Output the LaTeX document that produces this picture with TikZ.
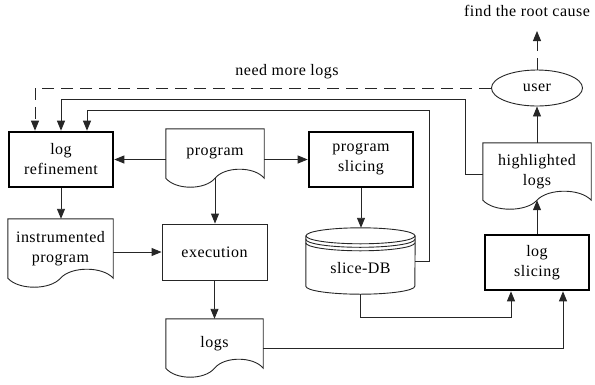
\documentclass[tikz,border=0pt]{standalone}
\usepackage{fontspec}
\setmainfont{Liberation Serif}[LetterSpace=3]
\usetikzlibrary{arrows.meta,calc,shapes.geometric}
\tikzset{
  txt/.style={font=\fontsize{16}{20}\selectfont},
  ln/.style={draw=black!85, line width=0.9pt},
  arr/.style={ln, -{Triangle[length=10pt,width=8pt]}},
  dashedarr/.style={arr, dash pattern=on 12pt off 7pt},
  thickbox/.style={txt, draw=black, line width=2.6pt, rectangle, align=center, inner sep=0pt},
  thinbox/.style={txt, ln, rectangle, align=center, inner sep=0pt},
  docnode/.style={txt, rectangle, align=center, inner sep=0pt},
  docline/.style={ln},
}
\newcommand{\docwave}[1]{%
  \draw[docline] let \p1=(#1.north west), \p2=(#1.south east) in
    (\x1,\y2) .. controls ({\x1+0.1*(\x2-\x1)},{\y2-12pt}) and ({\x1+0.4*(\x2-\x1)},{\y2-12pt}) .. ({0.5*(\x1+\x2)},\y2)
    .. controls ({\x1+0.6*(\x2-\x1)},{\y2+12pt}) and ({\x1+0.9*(\x2-\x1)},{\y2+12pt}) .. (\x2,\y2)
    -- (\x2,\y1) -- (\x1,\y1) -- cycle;}
\begin{document}
\begin{tikzpicture}[x=1pt,y=-1pt]
\useasboundingbox (0,0) rectangle (595,384);

% nodes
\node[thickbox, minimum width=104pt, minimum height=55pt] (logref) at (61,159.5) {log\\refinement};
\node[docnode, minimum width=98pt, minimum height=49pt] (program) at (215,153.5) {program};
\node[thickbox, minimum width=104pt, minimum height=55pt] (progslice) at (361,159.5) {program\\slicing};
\node[txt, ln, ellipse, minimum width=91pt, minimum height=36pt, inner sep=0pt] (user) at (537,88) {user};
\node[docnode, minimum width=108pt, minimum height=57pt] (highlighted) at (537,171.5) {highlighted\\logs};
\node[thickbox, minimum width=104pt, minimum height=55pt] (logslice) at (537,262.5) {log\\slicing};
\node[txt, rectangle, inner sep=0pt, minimum width=109pt, minimum height=66pt] (slicedb) at (360.5,261) {\raisebox{-7pt}[\height][\depth]{slice-DB}};
\node[thinbox, minimum width=105pt, minimum height=56pt] (execution) at (214.5,252) {execution};
\node[docnode, minimum width=105pt, minimum height=59pt] (instr) at (60.5,248.5) {instrumented\\program};
\node[docnode, minimum width=97pt, minimum height=49pt] (logs) at (214.5,343.5) {logs};
\node[txt] (root) at (527,11) {find the root cause};
\node[txt] (needmore) at (287,72) {need more logs};

% document outlines
\docwave{program}
\docwave{highlighted}
\docwave{instr}
\docwave{logs}

% cylinder
\draw[ln] ([yshift=-8pt]slicedb.north west) -- ([yshift=8pt]slicedb.south west)
  arc[start angle=180, end angle=360, x radius=54.5pt, y radius=8pt]
  -- ([yshift=-8pt]slicedb.north east);
\draw[ln] ([yshift=-8pt]slicedb.north) ellipse[x radius=54.5pt, y radius=8pt];
\draw[ln] ([yshift=-11.5pt]slicedb.north west) arc[start angle=180, end angle=360, x radius=54.5pt, y radius=8pt];
\draw[ln] ([yshift=-15pt]slicedb.north west) arc[start angle=180, end angle=360, x radius=54.5pt, y radius=8pt];

% routing coordinates
\coordinate (c1) at (429,110);
\coordinate (c2) at (465,99);
\coordinate (k1) at (511,317);
\coordinate (rc) at (537,31);

% connectors
\draw[arr] (logref.east -| program.west) -- (logref.east);
\draw[arr] (progslice.west -| program.east) -- (progslice.west);
\draw[arr] (program.south) -- (program.south |- execution.north);
\draw[arr] (logref.south) -- (logref.south |- instr.north);
\draw[arr] (execution.west -| instr.east) -- (execution.west);
\draw[arr] (execution.south) -- (execution.south |- logs.north);
\draw[arr] (progslice.south) -- (progslice.south |- slicedb.north);
\draw[arr] (slicedb.east) -| (c1) -| ([xshift=26pt]logref.north);
\draw[arr] ([yshift=-3pt]highlighted.west) -| (c2) -| (logref.north);
\draw[dashedarr] (user.west) -| ([xshift=-26pt]logref.north);
\draw[arr] (slicedb.south) |- (k1) -- ([xshift=-26pt]logslice.south);
\draw[arr] ([yshift=-5pt]logs.east) -| ([xshift=26pt]logslice.south);
\draw[arr] (logslice.north) -- (logslice.north |- highlighted.south);
\draw[arr] (highlighted.north) -- (user.south);
\draw[dashedarr] (user.north) -- (rc);
\end{tikzpicture}
\end{document}
